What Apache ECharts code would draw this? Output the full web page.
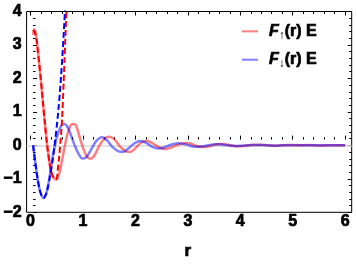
<!DOCTYPE html>
<html>
<head>
<meta charset="utf-8">
<script src="https://cdn.jsdelivr.net/npm/echarts@6/dist/echarts.min.js"></script>
<style>html,body{margin:0;padding:0;background:#fff;}#c{width:357px;height:265px;}</style>
</head>
<body>
<div id="c"></div>
<script>
// ---- data ----
const xTicks = [0, 1, 2, 3, 4, 5, 6];
const yTicks = [-2, -1, 0, 1, 2, 3, 4];
const legendNames = ['F↑(r) E', 'F↓(r) E'];

const rUp = [0, 0.025, 0.05, 0.1, 0.15, 0.2, 0.25, 0.3, 0.35, 0.4, 0.45, 0.5, 0.55, 0.6, 0.65, 0.7, 0.75, 0.8, 0.85, 0.9, 0.95, 1.0, 1.05, 1.1, 1.15, 1.2, 1.25, 1.3, 1.35, 1.4, 1.47, 1.54, 1.6, 1.65, 1.7, 1.78, 1.86, 1.93, 2.0, 2.06, 2.13, 2.2, 2.28, 2.36, 2.45, 2.55, 2.65, 2.75, 2.85, 2.95, 3.05, 3.15, 3.25, 3.35, 3.45, 3.55, 3.65, 3.75, 3.85, 3.95, 4.05, 4.2, 4.35, 4.5, 4.7, 4.9, 5.1, 5.3, 5.5, 5.7, 6.0];
const fUp = [3.3, 3.47, 3.35, 2.7, 1.95, 1.1, 0.3, -0.35, -0.8, -0.98, -1.02, -0.85, -0.5, -0.1, 0.28, 0.52, 0.63, 0.63, 0.48, 0.22, -0.03, -0.23, -0.36, -0.40, -0.36, -0.24, -0.08, 0.06, 0.16, 0.23, 0.26, 0.21, 0.11, 0.01, -0.08, -0.17, -0.20, -0.14, -0.03, 0.06, 0.12, 0.13, 0.08, 0.0, -0.08, -0.11, -0.07, 0.0, 0.05, 0.07, 0.04, -0.02, -0.05, -0.04, 0.0, 0.03, 0.04, 0.02, -0.01, -0.03, -0.02, 0.01, 0.02, 0.0, -0.01, 0.01, 0.0, 0.01, -0.01, 0.0, 0.0];

const rDn = [0, 0.05, 0.1, 0.15, 0.2, 0.25, 0.3, 0.35, 0.4, 0.45, 0.5, 0.55, 0.6, 0.65, 0.7, 0.75, 0.8, 0.85, 0.9, 0.95, 1.0, 1.05, 1.1, 1.16, 1.22, 1.28, 1.33, 1.4, 1.46, 1.52, 1.6, 1.67, 1.74, 1.82, 1.9, 1.98, 2.06, 2.14, 2.22, 2.3, 2.4, 2.5, 2.6, 2.7, 2.8, 2.9, 3.0, 3.1, 3.2, 3.3, 3.4, 3.5, 3.6, 3.7, 3.8, 3.9, 4.0, 4.2, 4.4, 4.6, 4.8, 5.0, 5.3, 5.6, 6.0];
const fDn = [0, -0.6, -1.12, -1.45, -1.57, -1.45, -1.1, -0.6, -0.15, 0.2, 0.45, 0.6, 0.64, 0.58, 0.42, 0.2, 0.0, -0.18, -0.32, -0.39, -0.38, -0.3, -0.17, 0.0, 0.14, 0.22, 0.24, 0.18, 0.08, -0.04, -0.14, -0.19, -0.19, -0.11, 0.0, 0.09, 0.13, 0.10, 0.03, -0.05, -0.09, -0.07, -0.01, 0.04, 0.06, 0.04, 0.0, -0.04, -0.04, -0.02, 0.01, 0.03, 0.03, 0.01, -0.01, -0.02, -0.01, 0.01, 0.01, -0.01, 0.0, 0.01, 0.0, 0.0, 0.0];

// small-r approximations (dashed)
const rUpApprox = [0, 0.05, 0.1, 0.15, 0.2, 0.25, 0.3, 0.35, 0.4, 0.44, 0.48, 0.52, 0.55, 0.58, 0.61, 0.64, 0.66];
const fUpApprox = [3.45, 3.3, 2.7, 1.95, 1.1, 0.3, -0.35, -0.8, -0.98, -1.02, -0.65, 0.0, 0.6, 1.6, 2.8, 4.0, 4.9];
const rDnApprox = [0, 0.05, 0.1, 0.15, 0.2, 0.25, 0.3, 0.35, 0.4, 0.45, 0.5, 0.55, 0.58, 0.61, 0.63];
const fDnApprox = [0, -0.6, -1.12, -1.45, -1.57, -1.45, -1.12, -0.7, -0.15, 0.5, 1.3, 2.35, 3.1, 3.95, 4.6];

// ---- layout ----
const W = 357, H = 265;
const gL = 24, gR = 5.3, gT = 11.5, gB = 52.7;
const xPad = 0.125, xMin = -xPad, xMax = 6 + xPad;
const pxPerX = (W - gL - gR) / (xMax - xMin);
const gBL = gL + xPad * pxPerX, gBR = gR + xPad * pxPerX;

const zip = (a, b) => a.map((v, i) => [v, b[i]]);
const font = '"Liberation Sans", Arial, sans-serif';
const heavy = {textBorderColor: '#000', textBorderWidth: 0.7};
const tickLabel = Object.assign({fontFamily: font, fontWeight: 'bold', fontSize: 16, color: '#000'}, heavy);

const chart = echarts.init(document.getElementById('c'), null, {renderer: 'canvas'});
chart.setOption({
  animation: false,
  backgroundColor: '#fff',
  grid: [
    {left: gL, right: gR, top: gT, bottom: gB, show: true, borderColor: '#000', borderWidth: 1, backgroundColor: 'transparent'},
    {left: gBL, right: gBR, top: gT, bottom: gB, show: false}
  ],
  xAxis: [
    {gridIndex: 0, type: 'value', min: xMin, max: xMax, show: false},
    {gridIndex: 1, type: 'value', min: 0, max: 6, interval: 1, position: 'bottom',
      axisLine: {show: false}, splitLine: {show: false},
      axisTick: {show: true, inside: true, length: 4, lineStyle: {color: '#000', width: 1}},
      minorTick: {show: true, splitNumber: 5, length: 2.5, lineStyle: {color: '#000', width: 1}},
      axisLabel: Object.assign({margin: 10, showMinLabel: true, showMaxLabel: true}, tickLabel),
      name: 'r', nameLocation: 'middle', nameGap: 39,
      nameTextStyle: Object.assign({fontFamily: font, fontWeight: 'bold', fontSize: 17, color: '#000'}, heavy)
    },
    {gridIndex: 1, type: 'value', min: 0, max: 6, interval: 1, position: 'top',
      axisLine: {show: false}, splitLine: {show: false}, axisLabel: {show: false},
      axisTick: {show: true, inside: true, length: 4, lineStyle: {color: '#000', width: 1}},
      minorTick: {show: true, splitNumber: 5, length: 2.5, lineStyle: {color: '#000', width: 1}}
    }
  ],
  yAxis: [
    {gridIndex: 0, type: 'value', min: yTicks[0], max: yTicks[yTicks.length - 1], interval: 1, position: 'left',
      axisLine: {show: false}, splitLine: {show: false},
      axisTick: {show: true, inside: true, length: 4, lineStyle: {color: '#000', width: 1}},
      minorTick: {show: true, splitNumber: 5, length: 2.5, lineStyle: {color: '#000', width: 1}},
      axisLabel: Object.assign({margin: 5, formatter: v => (v < 0 ? '\u2212' + Math.abs(v) : String(v))}, tickLabel)
    },
    {gridIndex: 0, type: 'value', min: yTicks[0], max: yTicks[yTicks.length - 1], interval: 1, position: 'right',
      axisLine: {show: false}, splitLine: {show: false}, axisLabel: {show: false},
      axisTick: {show: true, inside: true, length: 4, lineStyle: {color: '#000', width: 1}},
      minorTick: {show: true, splitNumber: 5, length: 2.5, lineStyle: {color: '#000', width: 1}}
    },
    {gridIndex: 1, type: 'value', min: -2, max: 4, show: false}
  ],
  legend: {
    orient: 'vertical', left: 242, top: 23, padding: 0, itemWidth: 16, itemHeight: 2, itemGap: 10,
    icon: 'rect',
    data: legendNames,
    formatter: n => n === legendNames[0] ? '{f|F}{s|↑}{n|(r) E}' : '{f|F}{s|↓}{n|(r) E}',
    textStyle: {
      fontFamily: font, fontWeight: 'bold', fontSize: 16, color: '#000',
      rich: {
        f: Object.assign({fontFamily: font, fontStyle: 'italic', fontWeight: 'bold', fontSize: 16, color: '#000', lineHeight: 20, padding: [0, 0, 0, 6]}, heavy),
        s: {fontFamily: font, fontWeight: 'bold', fontSize: 12, color: '#000', lineHeight: 15, verticalAlign: 'bottom'},
        n: Object.assign({fontFamily: font, fontWeight: 'bold', fontSize: 16, color: '#000', lineHeight: 20}, heavy)
      }
    }
  },
  series: [
    {name: legendNames[0], type: 'line', xAxisIndex: 0, yAxisIndex: 0, data: zip(rUp, fUp),
      smooth: 0.4, showSymbol: false, symbol: 'none', color: 'rgba(255,0,0,0.5)',
      lineStyle: {width: 2.5, color: 'rgba(255,0,0,0.5)'}, clip: true, z: 2,
      markLine: {silent: true, symbol: 'none', label: {show: false},
        lineStyle: {color: '#d9d9d9', width: 1.5, type: 'solid'}, data: [{yAxis: 0}], z: 1}
    },
    {name: legendNames[1], type: 'line', xAxisIndex: 0, yAxisIndex: 0, data: zip(rDn, fDn),
      smooth: 0.4, showSymbol: false, symbol: 'none', color: 'rgba(0,0,255,0.5)',
      lineStyle: {width: 2.5, color: 'rgba(0,0,255,0.5)'}, clip: true, z: 3},
    {name: 'upApprox', type: 'line', xAxisIndex: 0, yAxisIndex: 0, data: zip(rUpApprox, fUpApprox),
      smooth: 0.4, showSymbol: false, symbol: 'none', color: '#ff0000',
      lineStyle: {width: 2, color: '#ff0000', type: [6, 3]}, clip: true, z: 4},
    {name: 'dnApprox', type: 'line', xAxisIndex: 0, yAxisIndex: 0, data: zip(rDnApprox, fDnApprox),
      smooth: 0.4, showSymbol: false, symbol: 'none', color: '#0000ff',
      lineStyle: {width: 2, color: '#0000ff', type: [6, 3]}, clip: true, z: 4}
  ]
});
</script>
</body>
</html>
